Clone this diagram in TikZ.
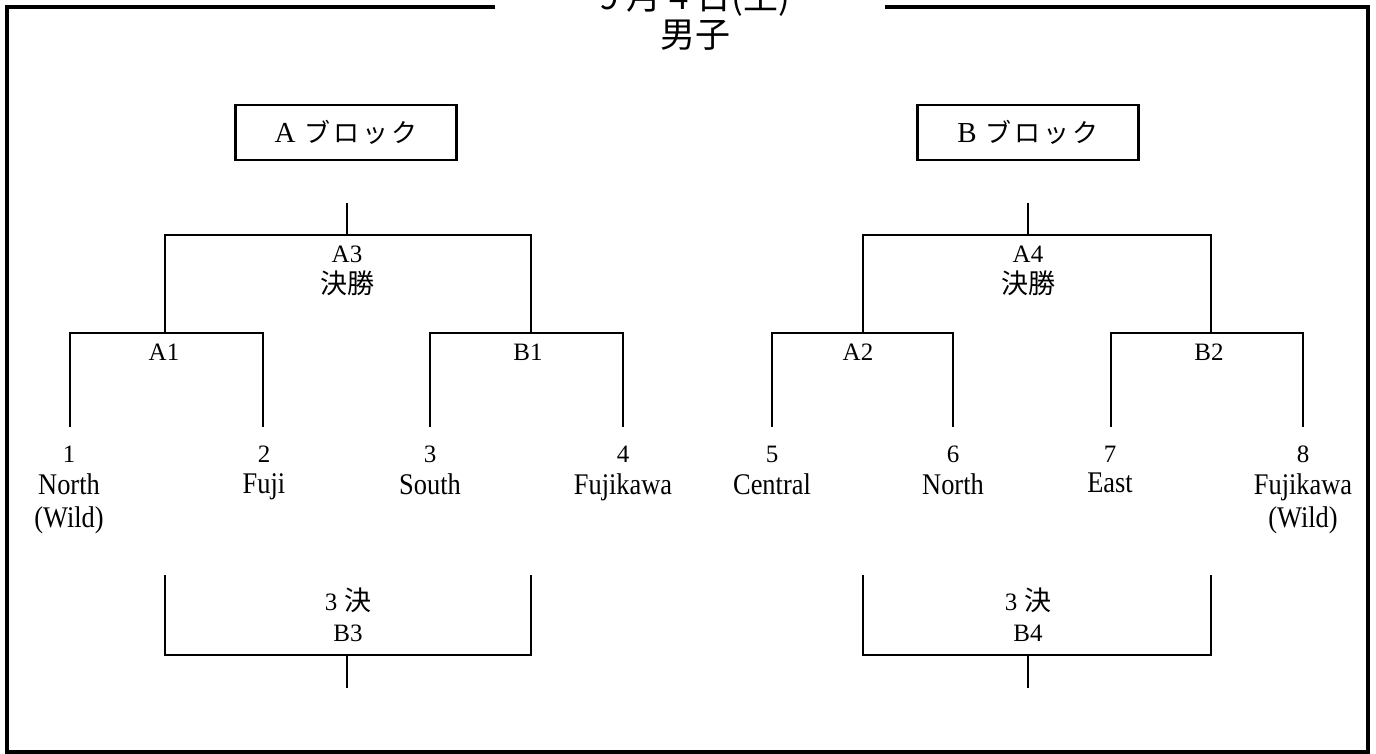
\documentclass[tikz,border=0pt]{standalone}
\usepackage{fontspec}
\setmainfont{Liberation Serif}
\newfontfamily\jp{Noto Sans CJK JP}
\newfontfamily\teamfont[FakeStretch=0.88]{Liberation Serif}
\begin{document}
\begin{tikzpicture}[x=1pt,y=-1pt,
  ln/.style={line width=2.2pt},
  frame/.style={line width=4pt},
  blockbox/.style={draw, line width=2.5pt, minimum width=221pt, minimum height=55pt, inner sep=0pt},
  num/.style={font=\fontsize{25}{28}\selectfont, anchor=base, inner sep=0pt},
  team/.style={font=\teamfont\fontsize{30}{33}\selectfont, anchor=north, align=center, inner sep=0pt},
  match/.style={font=\fontsize{25}{31}\selectfont, anchor=north, align=center, inner sep=0pt},
  title/.style={font=\jp\fontsize{35}{38}\selectfont, anchor=south, align=center, inner sep=0pt}]
\useasboundingbox (0,0) rectangle (1376,754);
\fill[white] (0,0) rectangle (1376,754);

% frame with gap for the title
\draw[frame] (495,7) -- (7,7) -- (7,752) -- (1368,752) -- (1368,7) -- (885,7);
\node[title] (title) at (695,51) {9 月 4 日(土)\\男子};

% block boxes
\node[blockbox] (boxA) at (346,132.5) {\fontsize{29}{30}\selectfont A\hspace{9pt}{\jp\fontsize{26}{30}\selectfont ブ\hspace{3pt}ロ\hspace{3pt}ッ\hspace{3pt}ク}};
\node[blockbox] (boxB) at (1028,132.5) {\fontsize{29}{30}\selectfont B\hspace{9pt}{\jp\fontsize{26}{30}\selectfont ブ\hspace{3pt}ロ\hspace{3pt}ッ\hspace{3pt}ク}};

% ---------- coordinates, left block ----------
\coordinate (aT) at (347,203);   \coordinate (aJ) at (347,235);
\coordinate (aL) at (165,235);   \coordinate (aR) at (531,235);
\coordinate (aLb) at (165,333);  \coordinate (aRb) at (531,333);
\coordinate (a1L) at (70,333);   \coordinate (a1R) at (263,333);
\coordinate (a1Lb) at (70,427);  \coordinate (a1Rb) at (263,427);
\coordinate (b1L) at (430,333);  \coordinate (b1R) at (623,333);
\coordinate (b1Lb) at (430,427); \coordinate (b1Rb) at (623,427);
\coordinate (t3L) at (165,575);  \coordinate (t3R) at (531,575);
\coordinate (t3Lb) at (165,655); \coordinate (t3Rb) at (531,655);
\coordinate (t3J) at (347,655);  \coordinate (t3B) at (347,688);

% ---------- coordinates, right block ----------
\coordinate (cT) at (1028,203);   \coordinate (cJ) at (1028,235);
\coordinate (cL) at (863,235);    \coordinate (cR) at (1211,235);
\coordinate (cLb) at (863,333);   \coordinate (cRb) at (1211,333);
\coordinate (a2L) at (772,333);   \coordinate (a2R) at (953,333);
\coordinate (a2Lb) at (772,427);  \coordinate (a2Rb) at (953,427);
\coordinate (b2L) at (1111,333);  \coordinate (b2R) at (1303,333);
\coordinate (b2Lb) at (1111,427); \coordinate (b2Rb) at (1303,427);
\coordinate (t4L) at (863,575);   \coordinate (t4R) at (1211,575);
\coordinate (t4Lb) at (863,655);  \coordinate (t4Rb) at (1211,655);
\coordinate (t4J) at (1028,655);  \coordinate (t4B) at (1028,688);

% ---------- brackets ----------
\draw[ln] (aT) -- (aJ);
\draw[ln] (aLb) -- (aL) -- (aR) -- (aRb);
\draw[ln] (a1Lb) -- (a1L) -- (a1R) -- (a1Rb);
\draw[ln] (b1Lb) -- (b1L) -- (b1R) -- (b1Rb);
\draw[ln] (t3L) -- (t3Lb) -- (t3Rb) -- (t3R);
\draw[ln] (t3J) -- (t3B);

\draw[ln] (cT) -- (cJ);
\draw[ln] (cLb) -- (cL) -- (cR) -- (cRb);
\draw[ln] (a2Lb) -- (a2L) -- (a2R) -- (a2Rb);
\draw[ln] (b2Lb) -- (b2L) -- (b2R) -- (b2Rb);
\draw[ln] (t4L) -- (t4Lb) -- (t4Rb) -- (t4R);
\draw[ln] (t4J) -- (t4B);

% ---------- match labels ----------
\node[match] (mA3) at (347,246) {A3\\{\jp\fontsize{27}{31}\selectfont 決勝}};
\node[match] (mA4) at (1028,246) {A4\\{\jp\fontsize{27}{31}\selectfont 決勝}};
\node[match] (mA1) at (164,344) {A1};
\node[match] (mB1) at (528,344) {B1};
\node[match] (mA2) at (858,344) {A2};
\node[match] (mB2) at (1209,344) {B2};
\node[match] (mB3) at (348,588) {3\hspace{7pt}{\jp\fontsize{27}{31}\selectfont 決}\\B3};
\node[match] (mB4) at (1028,588) {3\hspace{7pt}{\jp\fontsize{27}{31}\selectfont 決}\\B4};

% ---------- seeds ----------
\node[num] (n1) at (69,462) {1};
\node[num] (n2) at (264,462) {2};
\node[num] (n3) at (430,462) {3};
\node[num] (n4) at (623,462) {4};
\node[num] (n5) at (772,462) {5};
\node[num] (n6) at (953,462) {6};
\node[num] (n7) at (1110,462) {7};
\node[num] (n8) at (1303,462) {8};

% ---------- teams ----------
\node[team] (s1) at (69,473) {North\\(Wild)};
\node[team] (s2) at (264,473) {Fuji};
\node[team] (s3) at (430,473) {South};
\node[team] (s4) at (623,473) {Fujikawa};
\node[team] (s5) at (772,473) {Central};
\node[team] (s6) at (953,473) {North};
\node[team] (s7) at (1110,473) {East};
\node[team] (s8) at (1303,473) {Fujikawa\\(Wild)};
\end{tikzpicture}
\end{document}
